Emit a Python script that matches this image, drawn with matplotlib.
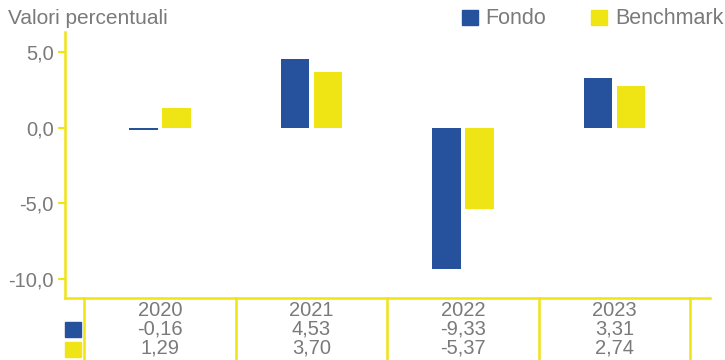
import numpy as np
import matplotlib.pyplot as plt
from matplotlib import transforms
from matplotlib.patches import Rectangle

plt.rcParams['font.family'] = ['Liberation Sans', 'DejaVu Sans']

years = ['2020', '2021', '2022', '2023']
fondo = [-0.16, 4.53, -9.33, 3.31]
benchmark = [1.29, 3.70, -5.37, 2.74]
fondo_labels = ['-0,16', '4,53', '-9,33', '3,31']
benchmark_labels = ['1,29', '3,70', '-5,37', '2,74']
yticks = [5.0, 0.0, -5.0, -10.0]
ytick_labels = ['5,0', '0,0', '-5,0', '-10,0']

BLUE = '#26519d'
YELLOW = '#f0e514'
GREY = '#7a7a7a'

fig = plt.figure(figsize=(7.25, 3.6), dpi=100)
ax = fig.add_axes([65 / 725, 1 - 297.5 / 360, 645 / 725, 265.5 / 360])

x = np.arange(len(years))
width = 0.19
offset = 0.109
ax.bar(x - offset, fondo, width, color=BLUE)
ax.bar(x + offset, benchmark, width, color=YELLOW)

ax.set_xlim(-0.627, 3.63)
ax.set_ylim(-11.25, 6.35)
ax.set_yticks(yticks)
ax.set_yticklabels(ytick_labels)
ax.set_xticks([])
ax.tick_params(axis='y', colors=YELLOW, labelcolor=GREY, labelsize=14.5,
               length=5, width=1.5, pad=3)
for side in ('top', 'right'):
    ax.spines[side].set_visible(False)
for side in ('left', 'bottom'):
    ax.spines[side].set_color(YELLOW)
    ax.spines[side].set_linewidth(1.8)

# data table under the axis
trans = transforms.blended_transform_factory(ax.transData, fig.transFigure)
for b in np.arange(-0.5, len(years), 1.0):
    ax.plot([b, b], [1 - 297.5 / 360, 0], color=YELLOW, lw=1.8,
            transform=trans, clip_on=False)
rows = [years, fondo_labels, benchmark_labels]
row_y = [1 - 310 / 360, 1 - 329 / 360, 1 - 348 / 360]
for labels, ry in zip(rows, row_y):
    for xi, lab in zip(x, labels):
        ax.text(xi, ry, lab, transform=trans, ha='center', va='center',
                fontsize=14.5, color=GREY)

fig.patches.append(Rectangle((65 / 725, 1 - 337 / 360), 16 / 725, 15 / 360,
                             transform=fig.transFigure, color=BLUE))
fig.patches.append(Rectangle((65 / 725, 1 - 357 / 360), 16 / 725, 15 / 360,
                             transform=fig.transFigure, color=YELLOW))

# title and legend
fig.text(8 / 725, 1 - 18 / 360, 'Valori percentuali', ha='left', va='center',
         fontsize=15, color=GREY)
fig.patches.append(Rectangle((462 / 725, 1 - 25 / 360), 16 / 725, 15 / 360,
                             transform=fig.transFigure, color=BLUE))
fig.text(485 / 725, 1 - 18 / 360, 'Fondo', ha='left', va='center',
         fontsize=15.5, color=GREY)
fig.patches.append(Rectangle((591 / 725, 1 - 25 / 360), 16 / 725, 15 / 360,
                             transform=fig.transFigure, color=YELLOW))
fig.text(615 / 725, 1 - 18 / 360, 'Benchmark', ha='left', va='center',
         fontsize=15.5, color=GREY)

fig.savefig('out.png', dpi=100)
